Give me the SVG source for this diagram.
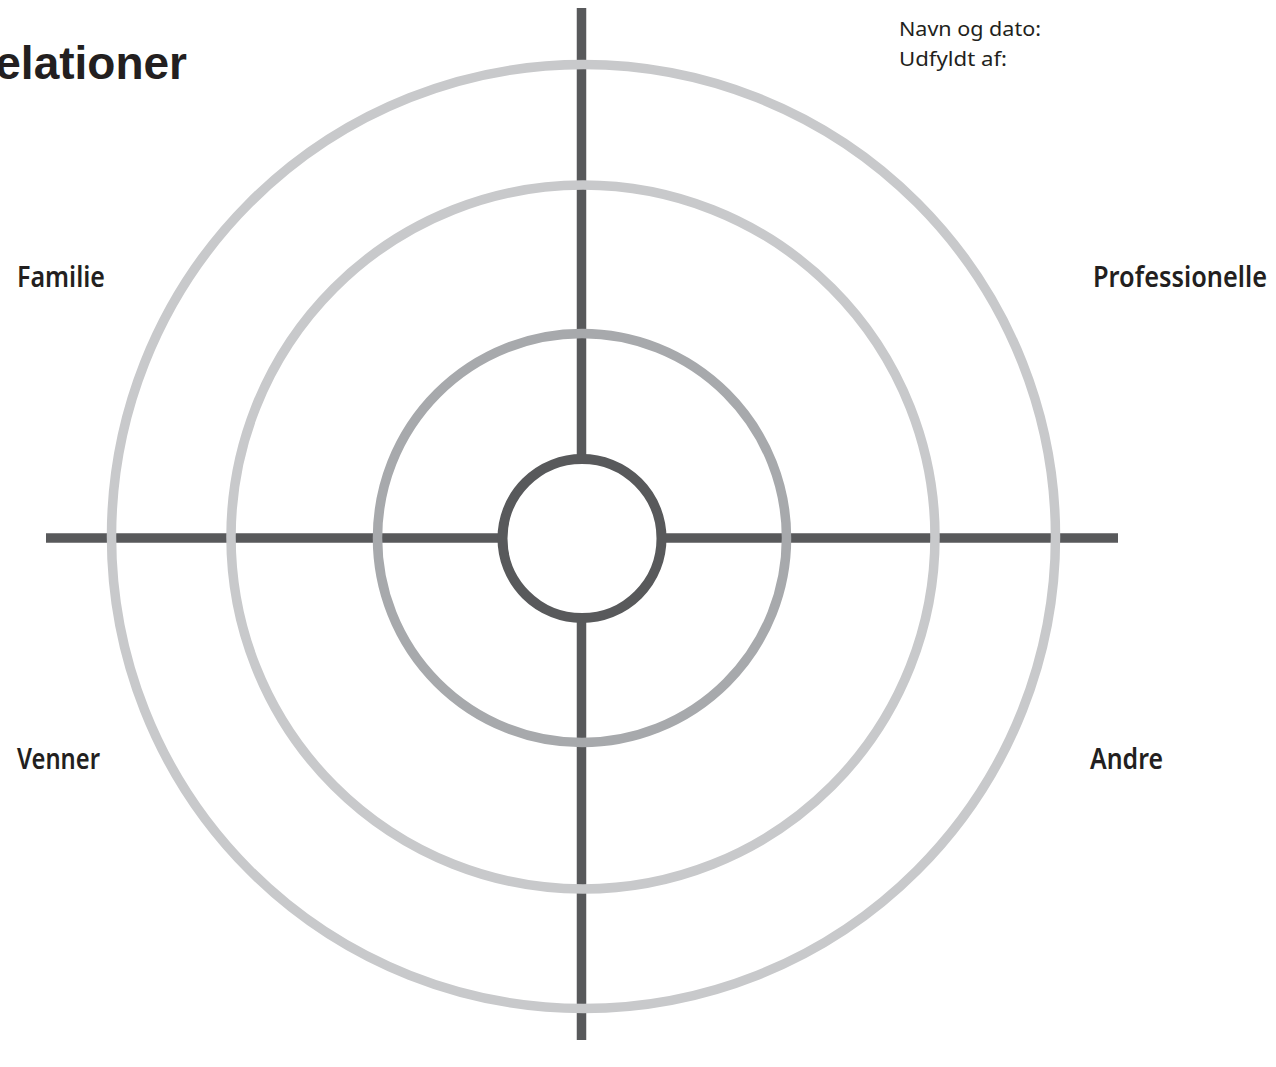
<svg xmlns="http://www.w3.org/2000/svg" width="1276" height="1067" viewBox="0 0 1276 1067">
<style>
.axis{stroke:#58595b;stroke-width:9.5;fill:none}
.ring{fill:none;stroke-width:9.5}
.light{stroke:#c8c9cb}
.mid{stroke:#a7a9ac}
.core{fill:#ffffff;stroke:#58595b;stroke-width:10}
.lbl{font-family:"Noto Sans","Liberation Sans",Arial,sans-serif;font-weight:600;font-size:29px;fill:#231f20}
.small{font-family:"Noto Sans","Liberation Sans",sans-serif;font-weight:400;font-size:20.5px;fill:#231f20}
.title{font-family:"Liberation Sans",Arial,sans-serif;font-weight:bold;font-size:46px;fill:#231f20}
</style>
<rect width="1276" height="1067" fill="#ffffff"/>
<g id="title">
<text class="title" x="187" y="79" text-anchor="end">Relationer</text>
</g>
<g id="header">
<text class="small" x="899" y="36" textLength="142" lengthAdjust="spacingAndGlyphs">Navn og dato:</text>
<text class="small" x="899" y="66" textLength="108" lengthAdjust="spacingAndGlyphs">Udfyldt af:</text>
</g>
<g id="connectors">
<line class="axis" x1="581.5" y1="8" x2="581.5" y2="1040"/>
<line class="axis" x1="46" y1="538" x2="1118" y2="538"/>
</g>
<g id="ring-outer"><circle class="ring light" cx="583.5" cy="536.5" r="472"/></g>
<g id="ring-second"><circle class="ring light" cx="583" cy="537" r="352"/></g>
<g id="ring-third"><circle class="ring mid" cx="582" cy="538" r="204.5"/></g>
<g id="center"><circle class="core" cx="582" cy="538.5" r="79.5"/></g>
<g id="label-familie"><text class="lbl" x="17" y="287" textLength="88" lengthAdjust="spacingAndGlyphs">Familie</text></g>
<g id="label-professionelle"><text class="lbl" x="1093" y="287" textLength="174" lengthAdjust="spacingAndGlyphs">Professionelle</text></g>
<g id="label-venner"><text class="lbl" x="17" y="769" textLength="83" lengthAdjust="spacingAndGlyphs">Venner</text></g>
<g id="label-andre"><text class="lbl" x="1090" y="769" textLength="73" lengthAdjust="spacingAndGlyphs">Andre</text></g>
</svg>
